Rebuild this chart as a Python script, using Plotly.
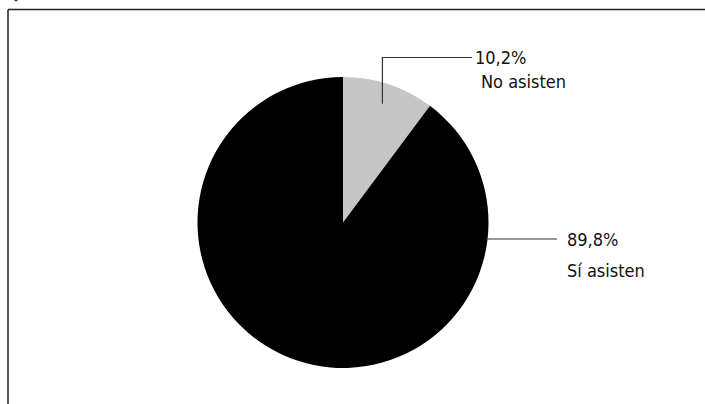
import math
import plotly.graph_objects as go

labels = ["No asisten", "Sí asisten"]
values = [10.2, 89.8]
value_text = ["10,2%", "89,8%"]
colors = ["#c6c6c6", "#000000"]

W, H = 705, 404
cx, cy, R = 343, 222.5, 145.5

def px(x):
    return x / W

def py(y):
    return 1 - y / H

fig = go.Figure(go.Pie(
    labels=labels, values=values, sort=False, direction="clockwise", rotation=0,
    marker=dict(colors=colors, line=dict(width=0)),
    textinfo="none", hoverinfo="label+percent", showlegend=False,
    domain=dict(x=[px(cx - R), px(cx + R)], y=[py(cy + R), py(cy - R)]),
))

font = dict(family="Liberation Sans Narrow, DejaVu Sans Condensed, Arial Narrow, sans-serif",
            size=18, color="#111")
shapes = []
annotations = []

# frame
shapes.append(dict(type="line", xref="paper", yref="paper", x0=px(8), x1=px(705), y0=py(9.5), y1=py(9.5),
                   line=dict(color="#222", width=1.5)))
shapes.append(dict(type="line", xref="paper", yref="paper", x0=px(8), x1=px(8), y0=py(9.5), y1=py(404),
                   line=dict(color="#222", width=1.5)))
# small cropped mark at the top-left edge
shapes.append(dict(type="line", xref="paper", yref="paper", x0=px(14.5), x1=px(17.5), y0=py(0.5), y1=py(0.5),
                   line=dict(color="#444", width=1.5)))

# leader for first slice (from slice mid-angle)
total = sum(values)
mid = values[0] / total * 360 / 2
ax = cx + 0.86 * R * math.sin(math.radians(mid))
ay = cy - 0.86 * R * math.cos(math.radians(mid))
ly = 57.5
shapes.append(dict(type="path", xref="paper", yref="paper",
                   path=f"M {px(ax)} {py(ay)} L {px(ax)} {py(ly)} L {px(472)} {py(ly)}",
                   line=dict(color="#333", width=1.2)))
annotations.append(dict(x=px(473), y=py(ly), xref="paper", yref="paper", text=value_text[0],
                        showarrow=False, xanchor="left", yanchor="middle", font=font))
annotations.append(dict(x=px(479), y=py(82), xref="paper", yref="paper", text=labels[0],
                        showarrow=False, xanchor="left", yanchor="middle", font=font))

# leader for second slice
by = 239
bx = cx + math.sqrt(R * R - (by - cy) ** 2)
shapes.append(dict(type="line", xref="paper", yref="paper", x0=px(bx - 2), x1=px(557), y0=py(by), y1=py(by),
                   line=dict(color="#333", width=1.2)))
annotations.append(dict(x=px(565), y=py(by), xref="paper", yref="paper", text=value_text[1],
                        showarrow=False, xanchor="left", yanchor="middle", font=font))
annotations.append(dict(x=px(565), y=py(270), xref="paper", yref="paper", text=labels[1],
                        showarrow=False, xanchor="left", yanchor="middle", font=font))

fig.update_layout(width=W, height=H, margin=dict(l=0, r=0, t=0, b=0),
                  paper_bgcolor="white", plot_bgcolor="white",
                  shapes=shapes, annotations=annotations)
fig.write_html("out.html")
